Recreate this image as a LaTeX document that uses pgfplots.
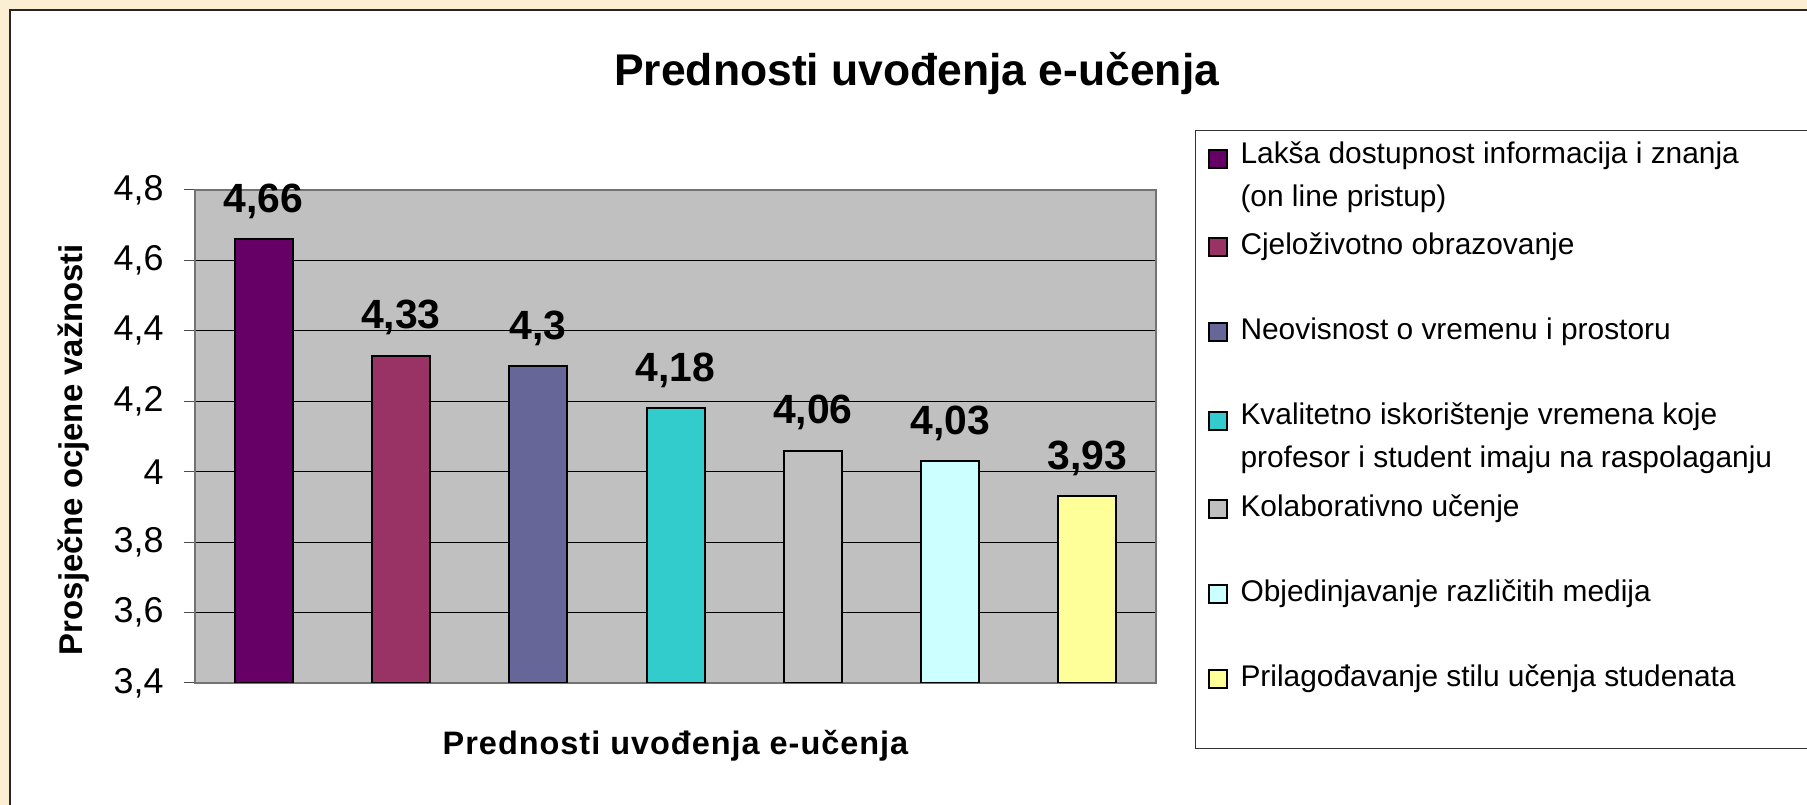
\documentclass[border=0pt]{standalone}
\usepackage{pgfplots}
\pgfplotsset{compat=1.18}
\usepackage{fontspec}
\setmainfont{Liberation Sans}
\definecolor{bgbeige}{HTML}{FBEED3}
\definecolor{plotgray}{HTML}{C0C0C0}
\definecolor{c1}{HTML}{660066}
\definecolor{c2}{HTML}{993366}
\definecolor{c3}{HTML}{666699}
\definecolor{c4}{HTML}{33CCCC}
\definecolor{c5}{HTML}{C0C0C0}
\definecolor{c6}{HTML}{CCFFFF}
\definecolor{c7}{HTML}{FFFF99}
\pgfplotsset{/pgf/number format/assume math mode=true}
\newcommand{\lentry}[2]{\vbox{\offinterlineskip\hbox to 700bp{\rule[-15bp]{0pt}{43bp}#1\hfil}\hbox to 700bp{\rule{0pt}{28bp}#2\hfil}\vskip 12.7bp}}
\begin{document}
\begin{tikzpicture}[x=1bp,y=1bp]
\useasboundingbox (0bp,0bp) rectangle (1807bp,805bp);
\clip (0bp,0bp) rectangle (1807bp,805bp);
\fill[bgbeige] (0bp,0bp) rectangle (1807bp,805bp);
\draw[fill=white, line width=2bp, draw=black!85] (10bp,-10bp) rectangle (1830bp,795bp);
\begin{axis}[
  at={(195bp,122bp)}, anchor=south west,
  scale only axis, width=961bp, height=493bp,
  xmin=0.5, xmax=7.5, ymin=3.4, ymax=4.8,
  ytick={3.4,3.6,3.8,4,4.2,4.4,4.6,4.8},
  xtick=\empty, ytick pos=left,
  ybar, bar width=58bp, bar shift=0pt,
  axis background/.style={fill=plotgray},
  ymajorgrids, major grid style={black, line width=1bp},
  axis line style={black!55, line width=1.5bp},
  tick align=outside, major tick length=11bp,
  tick style={black!70, line width=1bp},
  yticklabel style={font=\fontsize{36}{40}\selectfont, /pgf/number format/use comma, xshift=-17bp},
  title={\fontsize{44.6}{50}\selectfont\bfseries Prednosti uvođenja e-učenja},
  title style={at={(0.751,1.199)}, anchor=base, inner sep=0pt},
  xlabel={\fontsize{32.6}{38}\selectfont\bfseries\addfontfeatures{LetterSpace=3}Prednosti uvođenja e-učenja},
  xlabel style={at={(0.5,-0.146)}, anchor=base, inner sep=0pt},
  ylabel={\fontsize{33}{38}\selectfont\bfseries Prosječne ocjene važnosti},
  ylabel style={at={(-0.117,0.4736)}, anchor=base, inner sep=0pt},
  nodes near coords,
  every node near coord/.append style={font=\fontsize{41}{45}\selectfont\bfseries, /pgf/number format/use comma, anchor=base, yshift=27bp, inner sep=0pt},
  legend style={at={(1.0406,1.1217)}, anchor=north west, draw=black!80, line width=1bp, fill=white,
     inner xsep=12bp, inner ysep=4.5bp, row sep=0pt, column sep=13bp,
     font=\fontsize{30}{44}\selectfont, cells={anchor=west}, nodes={inner sep=0pt}},
  legend cell align=left,
  legend image code/.code={\draw[#1, line width=2bp] (0bp,12.85bp) rectangle (18bp,30.85bp);},
]
\addplot[fill=c1, draw=black, line width=2bp, bar shift=0pt] coordinates {(1,4.66)};
\addlegendentry{\lentry{Lakša dostupnost informacija i znanja}{(on line pristup)}}
\addplot[fill=c2, draw=black, line width=2bp, bar shift=0pt] coordinates {(2,4.33)};
\addlegendentry{\lentry{Cjeloživotno obrazovanje}{}}
\addplot[fill=c3, draw=black, line width=2bp, bar shift=0pt] coordinates {(3,4.30)};
\addlegendentry{\lentry{Neovisnost o vremenu i prostoru}{}}
\addplot[fill=c4, draw=black, line width=2bp, bar shift=0pt] coordinates {(4,4.18)};
\addlegendentry{\lentry{Kvalitetno iskorištenje vremena koje}{profesor i student imaju na raspolaganju}}
\addplot[fill=c5, draw=black, line width=2bp, bar shift=0pt] coordinates {(5,4.06)};
\addlegendentry{\lentry{Kolaborativno učenje}{}}
\addplot[fill=c6, draw=black, line width=2bp, bar shift=0pt] coordinates {(6,4.03)};
\addlegendentry{\lentry{Objedinjavanje različitih medija}{}}
\addplot[fill=c7, draw=black, line width=2bp, bar shift=0pt] coordinates {(7,3.93)};
\addlegendentry{\lentry{Prilagođavanje stilu učenja studenata}{}}
\end{axis}
\end{tikzpicture}
\end{document}
